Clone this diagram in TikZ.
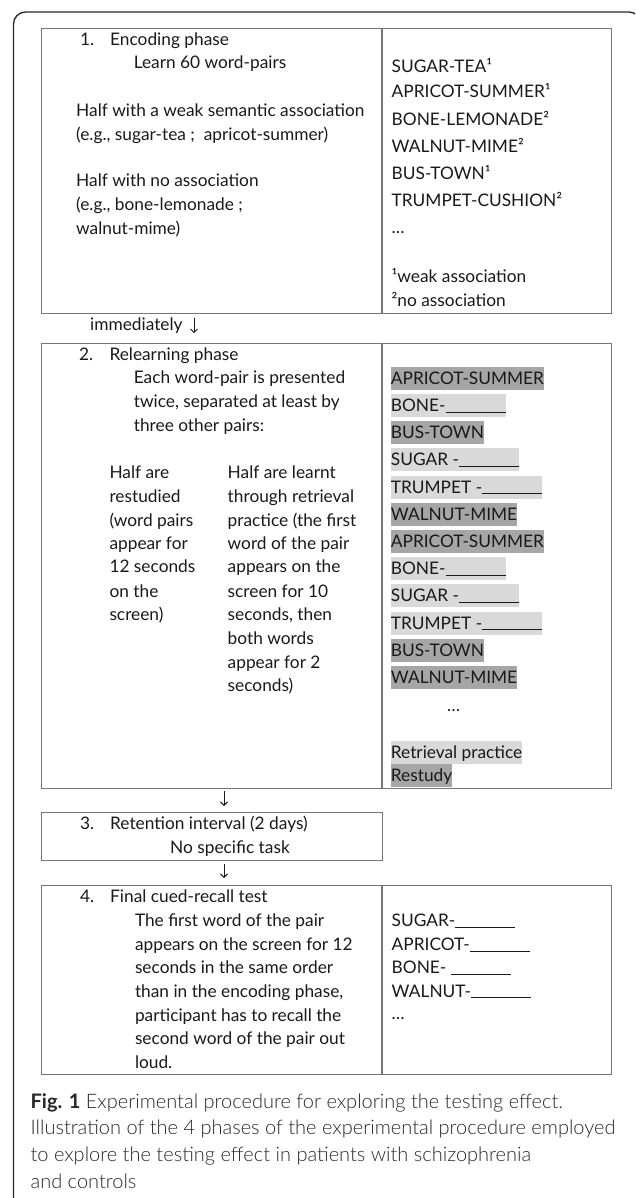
\documentclass[tikz,border=0pt]{standalone}
\usepackage{fontspec}
\setmainfont{Lato}
\newfontfamily\capfont{Lato Light}
\usetikzlibrary{arrows.meta}
\definecolor{boxgray}{RGB}{118,118,118}
\definecolor{txtcol}{RGB}{25,25,25}
\definecolor{capcol}{RGB}{40,40,40}
\definecolor{hd}{RGB}{166,166,166}
\definecolor{hlc}{RGB}{217,217,217}
\newcommand\myblank{\rule[-1.2pt]{60pt}{1pt}}
\begin{document}
\begin{tikzpicture}[x=1pt,y=-1pt,
  bx/.style={draw=boxgray, line width=1.1pt, inner sep=0pt, anchor=north west},
  txt/.style={anchor=base west, inner sep=0pt, font=\fontsize{17.3}{20}\selectfont, text=txtcol},
  hl/.style={txt, text height=17.5pt, text depth=5.5pt},
  hldark/.style={hl, fill=hd},
  hllight/.style={hl, fill=hlc},
  captxt/.style={anchor=base west, inner sep=0pt, font=\capfont\fontsize{20}{23}\selectfont, text=capcol},
  arr/.style={line width=0.9pt, draw=txtcol, -{Straight Barb[length=3.5pt,width=7pt]}},
  outerframe/.style={draw=black!85, line width=1.3pt, rounded corners=12pt}
]
\useasboundingbox (0,0) rectangle (635,1198);
\clip (0,0) rectangle (635,1198);
% outer frame
\draw[outerframe] (13.5,12) rectangle (641,1260);

% boxes
\node[bx, minimum width=570pt, minimum height=284.7pt] (b1) at (41,28) {};
\node[bx, minimum width=570pt, minimum height=445pt] (b2) at (41,342.7) {};
\node[bx, minimum width=341pt, minimum height=47.7pt] (b3) at (41,812.3) {};
\node[bx, minimum width=570pt, minimum height=189.3pt] (b4) at (41,885) {};
\coordinate (dv) at (382,0);
\draw[bx] (b1.north west -| dv) -- (b1.south west -| dv);
\draw[bx] (b2.north west -| dv) -- (b2.south west -| dv);
\draw[bx] (b4.north west -| dv) -- (b4.south west -| dv);

% arrows
\coordinate (ax1) at (194,0);
\coordinate (ax2) at (224,0);
\draw[arr, shorten <=4.5pt, shorten >=9.5pt] (b1.south west -| ax1) -- (b2.north west -| ax1);
\draw[arr, shorten <=2.5pt, shorten >=6.3pt] (b2.south west -| ax2) -- (b3.north west -| ax2);
\draw[arr, shorten <=3pt, shorten >=7pt] (b3.south west -| ax2) -- (b4.north west -| ax2);

% box 1
\node[txt] (n1) at (80,45.5) {1.};
\node[txt] (h1) at (110,45.5) {Encoding phase};
\node[txt] (e1) at (133.6,69) {Learn 60 word-pairs};
\foreach \s/\y [count=\i] in {{Half with a weak semantic association}/116.5,
  {(e.g., sugar-tea ;\ \ apricot-summer)}/140.5,
  {Half with no association}/187,
  {(e.g., bone-lemonade ;}/211,
  {walnut-mime)}/234.8}
  \node[txt] (e1l\i) at (76,\y) {\s};
\foreach \s/\y [count=\i] in {{SUGAR-TEA¹}/72.2, {APRICOT-SUMMER¹}/97.8,
  {BONE-LEMONADE²}/125.5, {WALNUT-MIME²}/152.2, {BUS-TOWN¹}/179.5,
  {TRUMPET-CUSHION²}/206.8, {…}/233.5, {¹weak association}/282.2,
  {²no association}/306.2}
  \node[txt] (e1r\i) at (391.5,\y) {\s};

\node[txt] (imm) at (90,330.5) {immediately};

% box 2
\node[txt] (n2) at (79,360.5) {2.};
\node[txt] (h2) at (109.3,360.5) {Relearning phase};
\foreach \s/\y [count=\i] in {{Each word-pair is presented}/383.8,
  {twice, separated at least by}/407.2, {three other pairs:}/431.2}
  \node[txt] (e2\i) at (133.6,\y) {\s};
\foreach \s/\y [count=\i] in {{Half are}/478.8, {restudied}/502.2, {(word pairs}/526.2,
  {appear for}/549.5, {12 seconds}/572.8, {on the}/597.2, {screen)}/620.5}
  \node[txt] (rs\i) at (109.3,\y) {\s};
\foreach \s/\y [count=\i] in {{Half are learnt}/478.8, {through retrieval}/502.2,
  {practice (the first}/526.2, {word of the pair}/549.5, {appears on the}/572.8,
  {screen for 10}/597.2, {seconds, then}/620.5, {both words}/644.5,
  {appear for 2}/668.2, {seconds)}/691.5}
  \node[txt] (rp\i) at (227.5,\y) {\s};
\foreach \c/\s [count=\i] in {dark/{APRICOT-SUMMER}, light/{BONE-\myblank},
  dark/{BUS-TOWN}, light/{SUGAR -\myblank}, light/{TRUMPET -\myblank},
  dark/{WALNUT-MIME}, dark/{APRICOT-SUMMER}, light/{BONE-\myblank},
  light/{SUGAR -\myblank}, light/{TRUMPET -\myblank}, dark/{BUS-TOWN},
  dark/{WALNUT-MIME}}
  \node[hl\c] (it\i) at (390.7,{366.7+27.2*(\i-1)+17.5}) {\s};
\node[txt] (dots2) at (447,711) {…};
\node[hllight] (lg1) at (390.7,758.2) {Retrieval practice};
\node[hldark] (lg2) at (390.7,781.2) {Restudy};

% box 3
\node[txt] (n3) at (80,829.8) {3.};
\node[txt] (h3) at (110,829.8) {Retention interval (2 days)};
\node[txt] (e3) at (170,853.5) {No specific task};

% box 4
\node[txt] (n4) at (80,902.8) {4.};
\node[txt] (h4) at (110,902.8) {Final cued-recall test};
\foreach \s/\y [count=\i] in {{The first word of the pair}/926.5,
  {appears on the screen for 12}/950.5, {seconds in the same order}/973.8,
  {than in the encoding phase,}/997.2, {participant has to recall the}/1021.2,
  {second word of the pair out}/1044.8, {loud.}/1068.2}
  \node[txt] (e4\i) at (134.8,\y) {\s};
\foreach \s/\y [count=\i] in {{SUGAR-\myblank}/926.5, {APRICOT-\myblank}/950.5,
  {BONE- \myblank}/973.8, {WALNUT-\myblank}/997.2, {…}/1019.5}
  \node[txt] (r4\i) at (391.5,\y) {\s};

% caption
\node[captxt] (c1) at (30.4,1108) {{\rmfamily\bfseries Fig. 1} Experimental procedure for exploring the testing effect.};
\node[captxt] (c2) at (30.4,1134.2) {Illustration of the 4 phases of the experimental procedure employed};
\node[captxt] (c3) at (30.4,1161.5) {to explore the testing effect in patients with schizophrenia};
\node[captxt] (c4) at (30.4,1188) {and controls};
\end{tikzpicture}
\end{document}
